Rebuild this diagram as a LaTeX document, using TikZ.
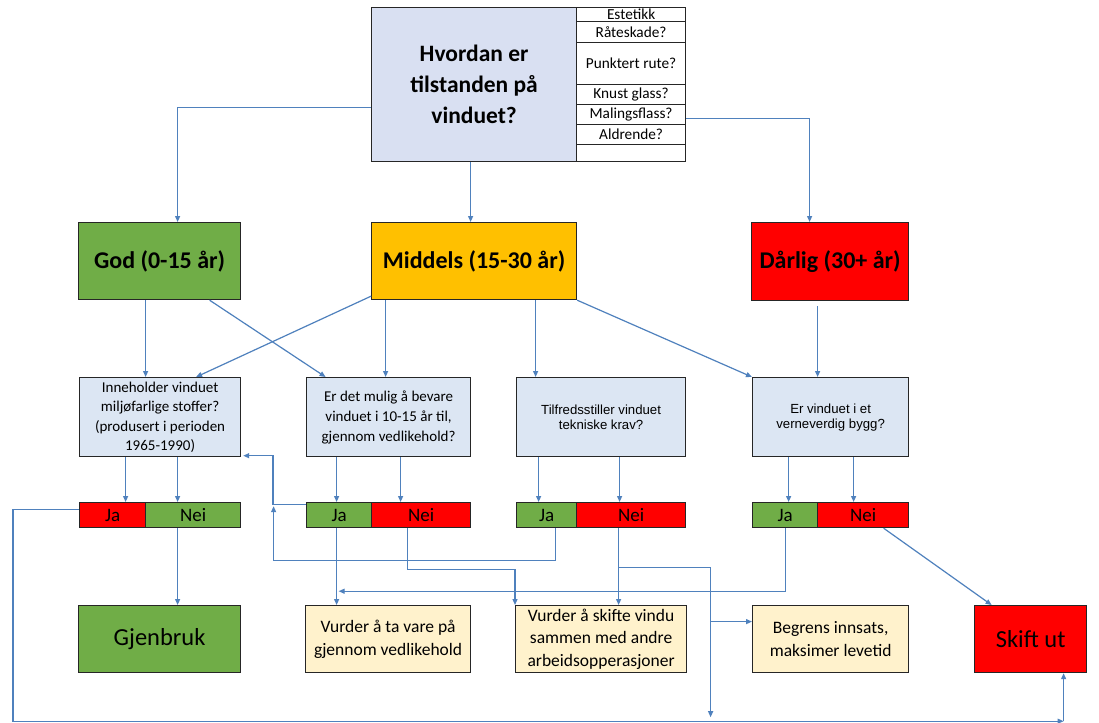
\documentclass[tikz,border=0pt]{standalone}
\usepackage{fontspec}
\setmainfont{Carlito}
\newfontfamily\arialf{Liberation Sans}
\usetikzlibrary{arrows.meta}

\definecolor{connC}{HTML}{4F81BD}
\definecolor{qFill}{HTML}{DCE6F3}
\definecolor{topFill}{HTML}{D9E0F2}
\definecolor{goodG}{HTML}{70AD47}
\definecolor{midO}{HTML}{FFC000}
\definecolor{badR}{HTML}{FF0000}
\definecolor{creamF}{HTML}{FFF2CC}
\definecolor{edgeC}{HTML}{262626}

\newcommand\fs[2]{\fontsize{#1}{#2}\selectfont}

\begin{document}
\begin{tikzpicture}[x=1pt,y=-1pt,
  box/.style={draw=edgeC,line width=1.2pt,inner sep=0pt,align=center,anchor=north west},
  rowbox/.style={box,fill=white,minimum width=109pt,font=\fs{15.3}{16}},
  qbox/.style={box,fill=qFill,minimum height=79pt},
  bar/.style={box,minimum height=25pt,font=\fs{19}{20}},
  endbox/.style={box,minimum height=67pt},
  conn/.style={draw=connC,line width=1.2pt,-{Triangle[length=6pt,width=5pt]}}]

\fill[white] (0,0) rectangle (1099,722);
\useasboundingbox (0,0) rectangle (1099,722);

% question at the top and its checklist
\node[box,fill=topFill,minimum width=205pt,minimum height=154pt,font=\bfseries\fs{23.5}{31}]
  (top) at (371,7) {Hvordan er\\tilstanden på\\vinduet?};
\node[rowbox,minimum height=14pt] (r1) at (576,7)   {Estetikk};
\node[rowbox,minimum height=21pt] (r2) at (576,21)  {Råteskade?};
\node[rowbox,minimum height=42pt] (r3) at (576,42)  {Punktert rute?};
\node[rowbox,minimum height=20pt] (r4) at (576,84)  {Knust glass?};
\node[rowbox,minimum height=20pt] (r5) at (576,104) {Malingsflass?};
\node[rowbox,minimum height=20pt] (r6) at (576,124) {Aldrende?};
\node[rowbox,minimum height=17pt] (r7) at (576,144) {};

% condition classes
\node[box,fill=goodG,minimum width=162pt,minimum height=77pt,font=\bfseries\fs{24}{28}]
  (god) at (78,222) {God (0-15 år)};
\node[box,fill=midO,minimum width=205pt,minimum height=77pt,font=\bfseries\fs{24}{28}]
  (mid) at (371,222) {Middels (15-30 år)};
\node[box,fill=badR,minimum width=157pt,minimum height=78pt,font=\bfseries\fs{24}{28}]
  (dar) at (751,222) {Dårlig (30+ år)};

% questions
\node[qbox,minimum width=161pt,font=\fs{15}{19.5}] (q1) at (79,377)
  {Inneholder vinduet\\miljøfarlige stoffer?\\(produsert i perioden\\1965-1990)};
\node[qbox,minimum width=164pt,font=\fs{15}{20}] (q2) at (306,377)
  {Er det mulig å bevare\\vinduet i 10-15 år til,\\gjennom vedlikehold?};
\node[qbox,minimum width=169pt,font=\arialf\fs{13.2}{15}] (q3) at (516,377)
  {Tilfredsstiller vinduet\\tekniske krav?};
\node[qbox,minimum width=156pt,font=\arialf\fs{13.2}{15}] (q4) at (752,377)
  {Er vinduet i et\\verneverdig bygg?};

% answers
\node[bar,fill=badR,minimum width=66pt]   (q1ja)  at (79,502)  {Ja};
\node[bar,fill=goodG,minimum width=95pt]  (q1nei) at (145,502) {Nei};
\node[bar,fill=goodG,minimum width=65pt]  (q2ja)  at (306,502) {Ja};
\node[bar,fill=badR,minimum width=99pt]   (q2nei) at (371,502) {Nei};
\node[bar,fill=goodG,minimum width=60pt]  (q3ja)  at (516,502) {Ja};
\node[bar,fill=badR,minimum width=109pt]  (q3nei) at (576,502) {Nei};
\node[bar,fill=goodG,minimum width=65pt]  (q4ja)  at (752,502) {Ja};
\node[bar,fill=badR,minimum width=91pt]   (q4nei) at (817,502) {Nei};

% outcomes
\node[endbox,fill=goodG,minimum width=162pt,font=\fs{24.5}{28}] (gjen) at (78,605) {Gjenbruk};
\node[endbox,fill=creamF,minimum width=165pt,font=\fs{17.5}{23}] (vura) at (305,605)
  {Vurder å ta vare på\\gjennom vedlikehold};
\node[endbox,fill=creamF,minimum width=171pt,font=\fs{17.5}{22.7}] (vurb) at (515,605)
  {Vurder å skifte vindu\\sammen med andre\\arbeidsopperasjoner};
\node[endbox,fill=creamF,minimum width=156pt,font=\fs{17.5}{23}] (begr) at (752,605)
  {Begrens innsats,\\maksimer levetid};
\node[endbox,fill=badR,minimum width=112pt,font=\fs{24.5}{28}] (skift) at (974,605) {Skift ut};

% top question to classes
\draw[conn] ([yshift=-23pt]top.west) -| ([xshift=18pt]god.north);
\draw[conn] ([xshift=-3.5pt]top.south) -- ([xshift=-3.5pt]mid.north);
\draw[conn] ([yshift=-4pt]r5.east) -| ([xshift=-20.5pt]dar.north);

% classes to questions
\draw[conn] ([xshift=-14pt]god.south) -- ([xshift=-14.5pt]q1.north);
\draw[conn] ([xshift=50pt]god.south) -- ([xshift=-63pt]q2.north);
\draw[conn] ([yshift=4pt]mid.south west) -- ([xshift=36pt]q1.north);
\draw[conn] ([xshift=-88.5pt]mid.south) -- ([xshift=-3pt]q2.north);
\draw[conn] ([xshift=61.5pt]mid.south) -- ([xshift=-65.5pt]q3.north);
\draw[conn] (mid.south east) -- (q4.north west);
\draw[conn] ([xshift=-12.5pt,yshift=-5pt]dar.south) -- ([xshift=-13pt]q4.north);

% questions to answers
\draw[conn] ([xshift=-34.5pt]q1.south) -- ([xshift=13pt]q1ja.north);
\draw[conn] ([xshift=17.5pt]q1.south) -- ([xshift=-15.5pt]q1nei.north);
\draw[conn] ([xshift=-52pt]q2.south) -- ([xshift=-2.5pt]q2ja.north);
\draw[conn] ([xshift=12pt]q2.south) -- ([xshift=-20.5pt]q2nei.north);
\draw[conn] ([xshift=-62.5pt]q3.south) -- ([xshift=-8pt]q3ja.north);
\draw[conn] ([xshift=18.5pt]q3.south) -- ([xshift=-11.5pt]q3nei.north);
\draw[conn] ([xshift=-42pt]q4.south) -- ([xshift=3.5pt]q4ja.north);
\draw[conn] ([xshift=23pt]q4.south) -- ([xshift=-9.5pt]q4nei.north);

% answers to outcomes
\draw[conn] ([xshift=-15.5pt]q1nei.south) -- ([xshift=18pt]gjen.north);
\coordinate (lc) at ([xshift=33pt,yshift=-48pt]skift.south);
\draw[conn] ([yshift=6pt]q1ja.west) -- ++(-66,0) |- (lc);
\draw[conn] (lc) -- ([xshift=33pt]skift.south);

\draw[conn] ([xshift=-2.5pt]q2ja.south) -- ([xshift=-51.5pt]vura.north);
\draw[conn,shorten >=2pt] ([yshift=11pt]q2ja.west) -- ++(-33,0) |- ([yshift=1.5pt]q1.south east);
\draw[conn] ([xshift=9pt]q3ja.south) -- ++(0,32) -- ++(-282,0) -- ++(0,-54);

\draw[conn] ([xshift=-13.5pt]q2nei.south) -- ++(0,41) -| (vurb.north west);
\draw[conn] ([xshift=-12.5pt]q3nei.south) -- ([xshift=17.5pt]vurb.north);
\coordinate (jv) at ([xshift=-12.5pt,yshift=-39pt]q3nei.south);
\draw[conn] (jv) -- ++(92,0) -- ++(0,150);
\draw[conn] ([xshift=-42pt,yshift=17.5pt]begr.west) -- ([yshift=17.5pt]begr.west);

\draw[conn] (q4ja.south) -- ++(0,63) -- ++(-446.5,0);
\draw[conn] ([xshift=20.5pt]q4nei.south) -- ([xshift=-39pt]skift.north);
\end{tikzpicture}
\end{document}
